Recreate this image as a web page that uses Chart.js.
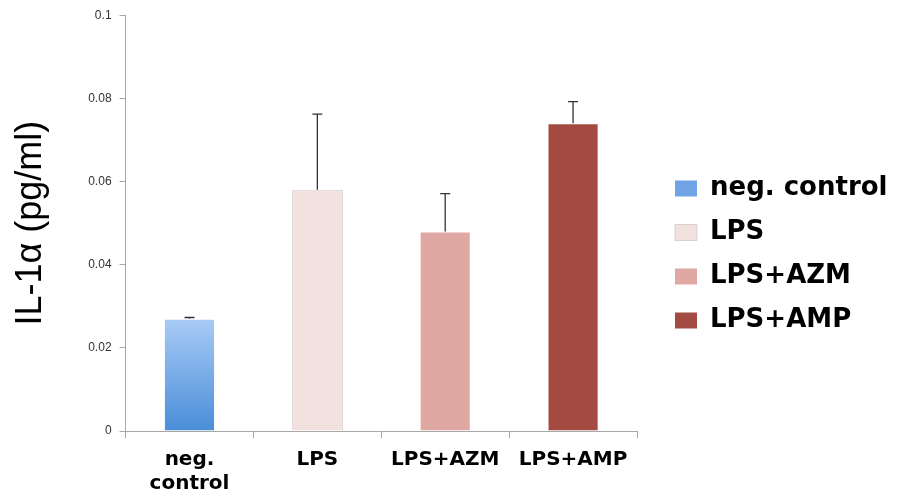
<!DOCTYPE html>
<html lang="en">
<head>
<meta charset="UTF-8">
<title>IL-1α</title>
<script src="https://cdn.jsdelivr.net/npm/chart.js"></script>
<style>
  body { margin: 0; background: #fff; }
</style>
</head>
<body>
<canvas id="chart" width="916" height="500"></canvas>
<script>
  // categories and values
  const categories = [['neg.', 'control'], 'LPS', 'LPS+AZM', 'LPS+AMP'];
  const legendNames = ['neg. control', 'LPS', 'LPS+AZM', 'LPS+AMP'];
  const means = [0.027, 0.058, 0.048, 0.074];
  const errorsUp = [0.0003, 0.0182, 0.0091, 0.0052];
  const yTicks = [0, 0.02, 0.04, 0.06, 0.08, 0.1];

  const colors = ['#6fa3e6', '#f2e2df', '#e0a8a3', '#a34a42'];

  function barColor(ctx) {
    if (ctx.dataIndex !== 0) return colors[ctx.dataIndex];
    const area = ctx.chart.chartArea;
    if (!area) return colors[0];
    const y = ctx.chart.scales.y;
    const g = ctx.chart.ctx.createLinearGradient(0, y.getPixelForValue(means[0]), 0, y.getPixelForValue(0));
    g.addColorStop(0, '#a8cbf6');
    g.addColorStop(1, '#4a8ed8');
    return g;
  }

  // upper error bars, placed with the chart's own scales
  const errorBars = {
    id: 'errorBars',
    afterDatasetsDraw(chart) {
      const c = chart.ctx;
      const meta = chart.getDatasetMeta(0);
      const y = chart.scales.y;
      c.save();
      c.strokeStyle = '#333';
      c.lineWidth = 1.3;
      meta.data.forEach((bar, i) => {
        const top = y.getPixelForValue(means[i] + errorsUp[i]);
        const base = y.getPixelForValue(means[i]);
        c.beginPath();
        c.moveTo(bar.x, base);
        c.lineTo(bar.x, top);
        c.moveTo(bar.x - 5, top);
        c.lineTo(bar.x + 5, top);
        c.stroke();
      });
      c.restore();
    }
  };

  // wider legend column, with a gap between the plot and the legend items
  const legendGap = {
    id: 'legendGap',
    beforeInit(chart) {
      const fit = chart.legend.fit;
      chart.legend.fit = function () {
        fit.call(this);
        this.width = chart.width - 637;
      };
    },
    afterLayout(chart) {
      chart.legend.left += 20;
    }
  };

  new Chart(document.getElementById('chart'), {
    type: 'bar',
    data: {
      labels: categories,
      datasets: [{
        data: means,
        backgroundColor: barColor,
        borderColor: ['rgba(0,0,0,0)', '#d8d0ce', 'rgba(0,0,0,0)', 'rgba(0,0,0,0)'],
        borderWidth: 1,
        categoryPercentage: 1,
        barPercentage: 0.4
      }]
    },
    options: {
      responsive: false,
      animation: false,
      layout: { padding: { top: 3, right: 0, left: 9, bottom: -6 } },
      scales: {
        x: {
          grid: { drawOnChartArea: false, drawTicks: true, tickLength: 7, color: '#a8a8a8' },
          border: { color: '#a8a8a8' },
          ticks: {
            color: '#000',
            padding: 10,
            maxRotation: 0,
            font: { family: '"DejaVu Sans", sans-serif', size: 20, weight: 'bold', lineHeight: 1.2 }
          }
        },
        y: {
          min: 0,
          max: 0.1,
          afterBuildTicks(scale) { scale.ticks = yTicks.map(v => ({ value: v })); },
          grid: { drawOnChartArea: false, drawTicks: true, tickLength: 6, color: '#a8a8a8' },
          border: { color: '#a8a8a8' },
          ticks: {
            color: '#333',
            padding: 8,
            font: { family: '"Liberation Sans", Arial, sans-serif', size: 12 },
            callback: v => v === 0 ? '0' : String(+v.toFixed(2))
          },
          title: {
            display: true,
            text: 'IL-1α (pg/ml)',
            color: '#000',
            padding: { top: 0, bottom: 28 },
            font: { family: '"Liberation Sans", Arial, sans-serif', size: 36 }
          }
        }
      },
      plugins: {
        legend: {
          position: 'right',
          labels: {
            color: '#000',
            boxWidth: 22,
            boxHeight: 16,
            padding: 18,
            font: { family: '"DejaVu Sans", sans-serif', size: 26, weight: 'bold' },
            generateLabels: () => legendNames.map((name, i) => ({
              text: name,
              fillStyle: colors[i],
              strokeStyle: i === 1 ? '#d8d0ce' : colors[i],
              lineWidth: i === 1 ? 1 : 0,
              hidden: false,
              index: i
            }))
          }
        },
        tooltip: { enabled: false }
      }
    },
    plugins: [errorBars, legendGap]
  });
</script>
</body>
</html>
